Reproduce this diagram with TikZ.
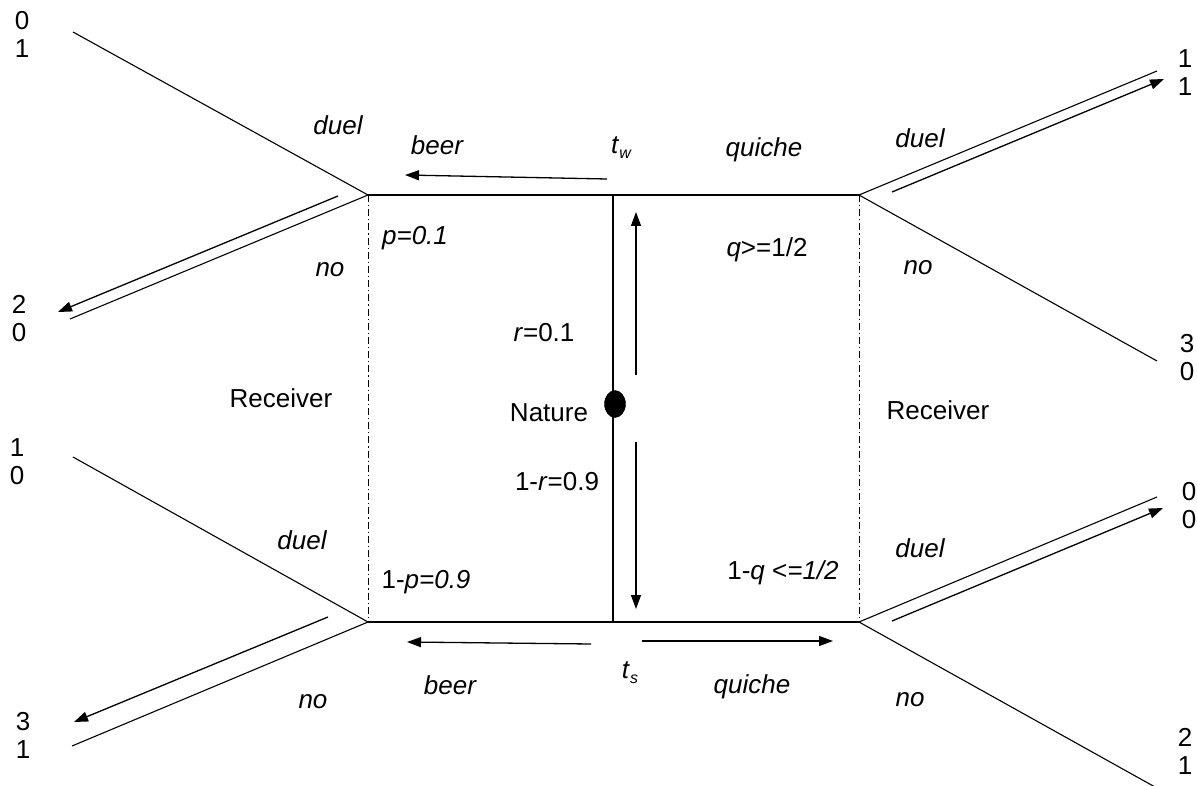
\documentclass[tikz,border=0pt]{standalone}
\usepackage{fontspec}
\setmainfont{Liberation Sans}
\usetikzlibrary{arrows.meta,shapes.geometric}
\tikzset{
  thin line/.style={line width=1.1pt},
  frame line/.style={line width=2.2pt},
  info set/.style={line width=1pt, dash pattern=on 7pt off 3pt on 1.2pt off 3pt},
  move arrow/.style={line width=1.3pt, -{Triangle[length=14pt,width=10pt]}},
  lbl/.style={inner sep=0pt, font=\fontsize{26}{28}\selectfont},
  mv/.style={lbl, font=\fontsize{26}{28}\selectfont\itshape},
  pay/.style={lbl, align=center, font=\fontsize{26}{28}\selectfont}
}
\begin{document}
\begin{tikzpicture}[x=1pt,y=-1pt]
\useasboundingbox (0,0) rectangle (1197,786);

% decision nodes of the two receivers and the sender types
\coordinate (LT) at (368,195);
\coordinate (RT) at (859,195);
\coordinate (LB) at (368,622);
\coordinate (RB) at (859,622);
\coordinate (TW) at (613,195);
\coordinate (TS) at (613,622);

% terminal points
\coordinate (LTd) at (73,32);
\coordinate (LTn) at (70,319);
\coordinate (RTd) at (1157,71);
\coordinate (RTn) at (1157,361);
\coordinate (LBd) at (73,457);
\coordinate (LBn) at (72,746);
\coordinate (RBd) at (1157,497);
\coordinate (RBn) at (1155,787);

% signalling paths
\draw[frame line] (LT) -- (TW) -- (RT);
\draw[frame line] (LB) -- (TS) -- (RB);
\draw[frame line] (TW) -- (TS);

% information sets of the receiver
\draw[info set] (LT) -- (LB);
\draw[info set] (RT) -- (RB);

% receiver responses
\draw[thin line] (LTd) -- (LT) -- (LTn);
\draw[thin line] (RTd) -- (RT) -- (RTn);
\draw[thin line] (LBd) -- (LB) -- (LBn);
\draw[thin line] (RBd) -- (RB) -- (RBn);

% nature
\node[draw, fill=black, ellipse, minimum width=21pt, minimum height=27pt, inner sep=0pt] (nat) at (615,404) {};

% equilibrium path arrows
\coordinate (a1s) at (607,179); \coordinate (a1e) at (405,175);
\coordinate (a2s) at (636,375); \coordinate (a2e) at (636,212);
\coordinate (a3s) at (636,442); \coordinate (a3e) at (636,609);
\coordinate (a4s) at (591,644); \coordinate (a4e) at (407,642);
\coordinate (a5s) at (642,641); \coordinate (a5e) at (833,641);
\coordinate (a6s) at (338,196); \coordinate (a6e) at (58,312);
\coordinate (a7s) at (892,192); \coordinate (a7e) at (1164,79);
\coordinate (a8s) at (328,617); \coordinate (a8e) at (74,722);
\coordinate (a9s) at (892,621); \coordinate (a9e) at (1163,508);
\foreach \k in {1,...,9} \draw[move arrow] (a\k s) -- (a\k e);

% payoffs
\node[pay] (pA) at (22,34)   {0\\1};
\node[pay] (pB) at (19,319)  {2\\0};
\node[pay] (pC) at (17,462)  {1\\0};
\node[pay] (pD) at (23,735)  {3\\1};
\node[pay] (pE) at (1185,73) {1\\1};
\node[pay] (pF) at (1187,358){3\\0};
\node[pay] (pG) at (1189,506){0\\0};
\node[pay] (pH) at (1185,751){2\\1};

% move labels
\node[mv] (dLT) at (338,125) {duel};
\node[mv] (nLT) at (330,270) {no};
\node[mv] (dLB) at (302,540) {duel};
\node[mv] (nLB) at (313,702) {no};
\node[mv] (dRT) at (920,138) {duel};
\node[mv] (nRT) at (918,268) {no};
\node[mv] (dRB) at (920,548) {duel};
\node[mv] (nRB) at (910,700) {no};
\node[mv] (bT) at (437,145) {beer};
\node[mv] (qT) at (764,150) {quiche};
\node[mv] (bB) at (450,685) {beer};
\node[mv] (qB) at (752,687) {quiche};

% types
\node[lbl] (tw) at (621,148) {\textit{t}\raisebox{-5pt}{\fontsize{16}{18}\selectfont\itshape w}};
\node[lbl] (ts) at (630,673) {\textit{t}\raisebox{-5pt}{\fontsize{16}{18}\selectfont\itshape s}};

% beliefs and probabilities
\node[lbl] (p1) at (415,238) {\textit{p=0.1}};
\node[lbl] (p2) at (426,582) {1-\textit{p=0.9}};
\node[lbl] (q1) at (767,250) {\textit{q}>=1/2};
\node[lbl] (q2) at (783,573) {1-\textit{q} <\textit{=1/2}};
\node[lbl] (r1) at (544,333) {\textit{r}=0.1};
\node[lbl] (r2) at (557,482) {1-\textit{r}=0.9};

% players
\node[lbl] (natL) at (549,413) {Nature};
\node[lbl] (recL) at (281,398) {Receiver};
\node[lbl] (recR) at (938,410) {Receiver};
\end{tikzpicture}
\end{document}
